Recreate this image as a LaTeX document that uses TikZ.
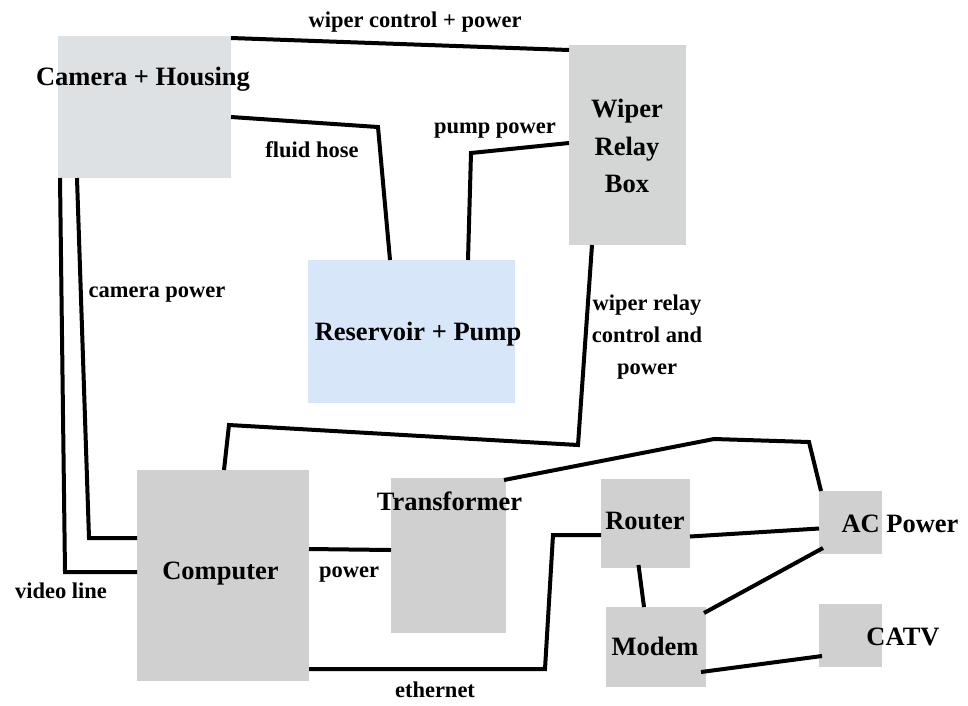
\documentclass[tikz,border=0pt]{standalone}
\usepackage{fontspec}
\setmainfont{Liberation Serif}
\usetikzlibrary{calc}
\definecolor{camgray}{HTML}{DEE1E4}
\definecolor{boxgray}{HTML}{D0D0D0}
\definecolor{wipgray}{HTML}{D4D5D5}
\definecolor{resblue}{HTML}{D7E7F9}
\tikzset{
  blk/.style={rectangle, inner sep=0pt, outer sep=0pt, fill=boxgray},
  big/.style={font=\fontsize{26.5}{30}\selectfont\bfseries, anchor=base, inner sep=0pt},
  small/.style={font=\fontsize{22.5}{26}\selectfont\bfseries, anchor=base, inner sep=0pt},
  wire/.style={line width=4pt, black}
}
\begin{document}
\begin{tikzpicture}[x=1pt,y=-1pt]
\useasboundingbox[fill=white] (0,0) rectangle (968,705);
% boxes
\node[blk, fill=camgray, minimum width=173pt, minimum height=142pt] (cam) at (144.5,107) {};
\node[blk, fill=wipgray, minimum width=117pt, minimum height=200pt] (wip) at (627.5,145) {};
\node[blk, fill=resblue, minimum width=207pt, minimum height=143pt] (res) at (411.5,331.5) {};
\node[blk, minimum width=172pt, minimum height=211pt] (comp) at (223,575.5) {};
\node[blk, minimum width=115pt, minimum height=155pt] (trans) at (448.5,555.5) {};
\node[blk, minimum width=89pt, minimum height=89pt] (router) at (645.5,523.5) {};
\node[blk, minimum width=100pt, minimum height=80pt] (modem) at (656,647) {};
\node[blk, minimum width=63pt, minimum height=63pt] (ac) at (850.5,522.5) {};
\node[blk, minimum width=63pt, minimum height=63pt] (catv) at (850.5,635.5) {};
% box labels
\node[big] (camT) at (143,85) {Camera + Housing};
\node[big, anchor=center, align=center, font=\fontsize{26.5}{37.5}\selectfont\bfseries] (wipT) at (627,146) {Wiper\\Relay\\Box};
\node[big] (resT) at (418,340) {Reservoir + Pump};
\node[big] (compT) at (220.5,579) {Computer};
\node[big] (transT) at (449.5,510) {Transformer};
\node[big] (routerT) at (645,529) {Router};
\node[big] (modemT) at (655,655) {Modem};
\node[big] (acT) at (900,532) {AC Power};
\node[big] (catvT) at (903,645) {CATV};
% connectors
\draw[wire] ($(cam.north east)+(0,2)$) -- ($(wip.north west)+(0,5)$);
\coordinate (fh1) at (378,127);
\draw[wire] ($(cam.east)+(0,10)$) -- (fh1) -- ($(res.north west)+(82,0)$);
\coordinate (pp1) at (471,153);
\draw[wire] ($(res.north west)+(160,0)$) -- (pp1) -- ($(wip.west)+(0,-2)$);
\coordinate (wr1) at (578,445);
\coordinate (wr2) at (229,425);
\draw[wire] ($(wip.south west)+(23,0)$) -- (wr1) -- (wr2) -- ($(comp.north west)+(87,0)$);
\coordinate (cp1) at (89,538);
\draw[wire] ($(cam.south west)+(19,0)$) -- (cp1) -- ($(comp.west)+(0,-37.5)$);
\coordinate (vl1) at (65,572);
\draw[wire] ($(cam.south west)+(2,0)$) -- (vl1) -- ($(comp.west)+(0,-3.5)$);
\draw[wire] ($(comp.east)+(0,-26.5)$) -- ($(trans.west)+(0,-5.5)$);
\coordinate (et1) at (545,669);
\coordinate (et2) at (553,535);
\draw[wire] ($(comp.south east)+(0,-12)$) -- (et1) -- (et2) -- ($(router.west)+(0,11.5)$);
\coordinate (tp1) at (714,439);
\coordinate (tp2) at (809,442);
\draw[wire] ($(trans.north east)+(-2,2)$) -- (tp1) -- (tp2) -- ($(ac.north west)+(2,0)$);
\draw[wire] ($(router.east)+(0,13)$) -- ($(ac.west)+(0,6)$);
\draw[wire] ($(router.south)+(-7,-3)$) -- ($(modem.north)+(-12,0)$);
\draw[wire] ($(modem.north east)+(-2,6)$) -- ($(ac.south west)+(4,-6)$);
\draw[wire] ($(modem.south east)+(-5,-15)$) -- ($(catv.south west)+(3,-11)$);
% connector labels
\node[small] (l1) at (415,27) {wiper control + power};
\node[small] (l2) at (312,157) {fluid hose};
\node[small] (l3) at (495,133) {pump power};
\node[small, anchor=center, align=center, font=\fontsize{22.5}{32}\selectfont\bfseries] (l4) at (647,337) {wiper relay\\control and\\power};
\node[small] (l5) at (157,297) {camera power};
\node[small] (l6) at (61,598) {video line};
\node[small] (l7) at (349,577) {power};
\node[small] (l8) at (435,697) {ethernet};
\end{tikzpicture}
\end{document}
